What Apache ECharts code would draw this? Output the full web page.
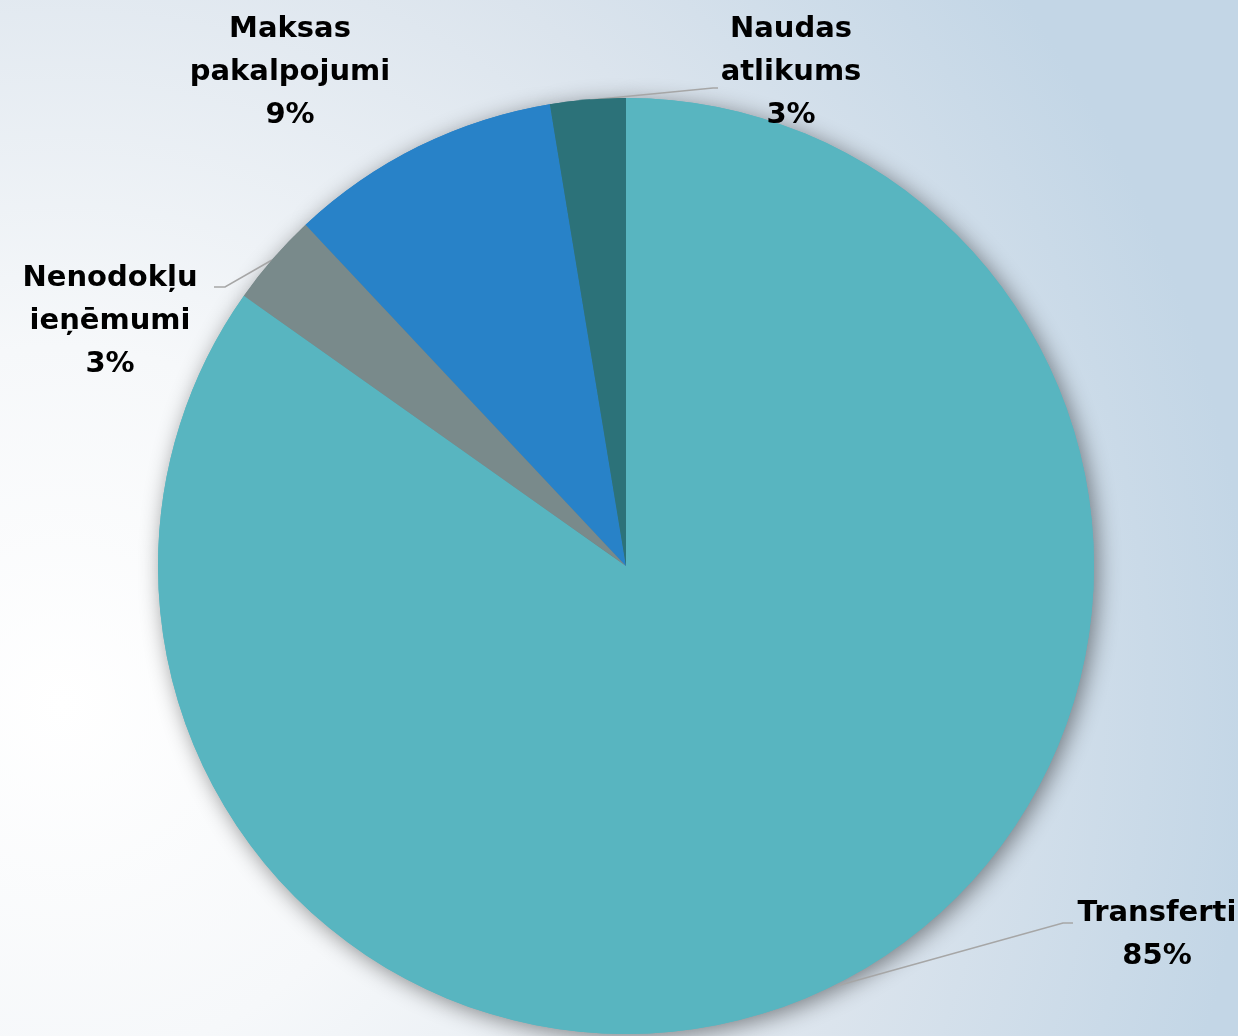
<!DOCTYPE html>
<html><head><meta charset="utf-8">
<script src="https://cdn.jsdelivr.net/npm/echarts@6/dist/echarts.min.js"></script>
<style>html,body{margin:0;padding:0;}#c{width:1238px;height:1036px;}</style>
</head><body><div id="c"></div>
<script>
const categories = ['Transferti', 'Nenodokļu\nieņēmumi', 'Maksas\npakalpojumi', 'Naudas\natlikums'];
const values = [84.8, 3.2, 9.4, 2.6];
const colors = ['#58B5C0', '#798A8B', '#2882C8', '#2C7279'];
// label anchor positions (centre of text block) and label line points
const labelPos = [
  {x: 1157, y: 935, line: [[840, 985], [1063, 923], [1073, 923]]},
  {x: 110, y: 321, line: [[272, 260], [225, 287], [214, 287]]},
  {x: 290, y: 72, line: null},
  {x: 791, y: 72, line: [[590, 100], [713, 88], [718, 88]]}
];

const base = {
  type: 'pie',
  center: [626, 566],
  radius: 468,
  startAngle: 90,
  clockwise: true,
  avoidLabelOverlap: false
};

const chart = echarts.init(document.getElementById('c'));
chart.setOption({
  backgroundColor: {
    type: 'radial', x: 0.05, y: 0.68, r: 1.15,
    colorStops: [
      {offset: 0, color: '#ffffff'},
      {offset: 0.3, color: '#f6f8fa'},
      {offset: 0.7, color: '#dbe4ed'},
      {offset: 1, color: '#c3d6e6'}
    ]
  },
  animation: false,
  series: [
    Object.assign({}, base, {
      silent: true,
      z: 1,
      itemStyle: {shadowBlur: 22, shadowColor: 'rgba(0,0,0,0.45)', shadowOffsetX: 4, shadowOffsetY: 4},
      label: {show: false},
      labelLine: {show: false},
      data: categories.map((c, i) => ({name: c, value: values[i], itemStyle: {color: colors[i]}}))
    }),
    Object.assign({}, base, {
      z: 2,
      label: {
        show: true,
        formatter: p => p.name + '\n' + Math.round(p.value) + '%',
        fontFamily: 'DejaVu Sans',
        fontWeight: 'bold',
        fontSize: 29,
        lineHeight: 43,
        color: '#000',
        align: 'center'
      },
      labelLine: {show: true, lineStyle: {color: '#a6a6a6', width: 1.5}},
      labelLayout: function (params) {
        const p = labelPos[params.dataIndex];
        const r = {x: p.x, y: p.y, align: 'center', verticalAlign: 'middle'};
        if (p.line) r.labelLinePoints = p.line;
        return r;
      },
      data: categories.map((c, i) => ({
        name: c, value: values[i],
        itemStyle: {color: colors[i]},
        labelLine: {show: !!labelPos[i].line}
      }))
    })
  ]
});
</script></body></html>
